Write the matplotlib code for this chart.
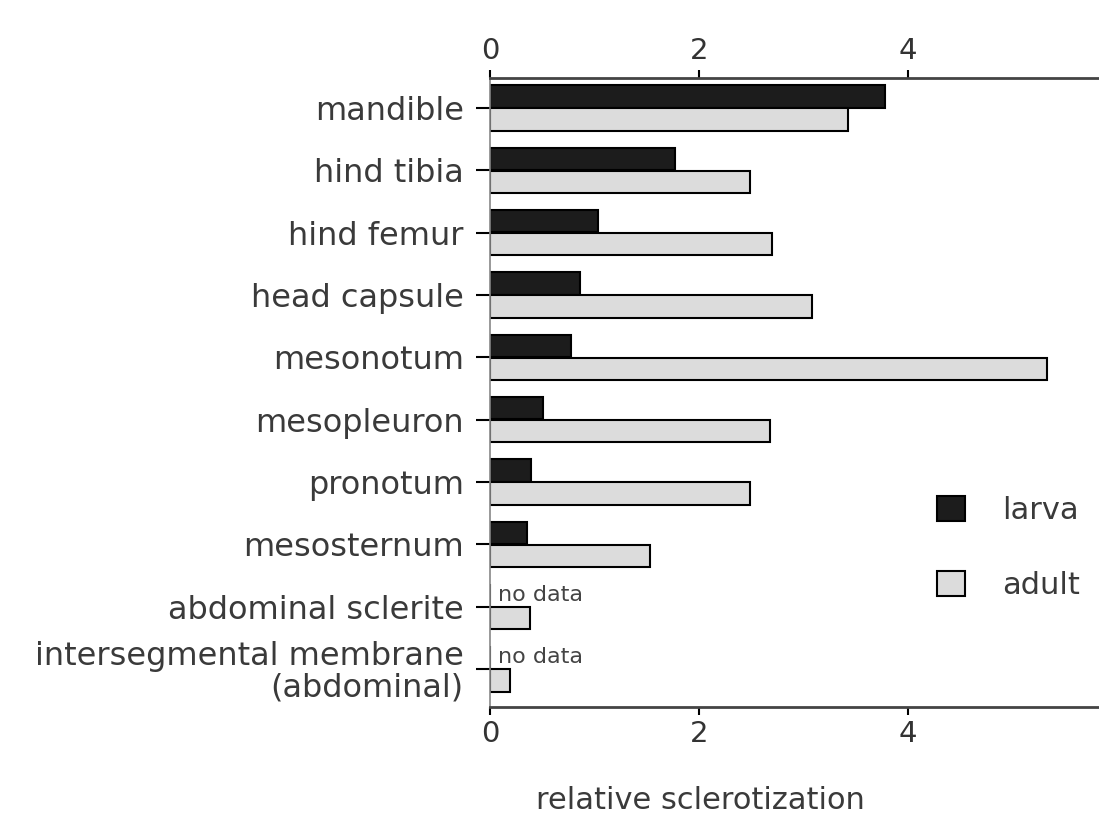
import numpy as np
import matplotlib.pyplot as plt
from matplotlib.patches import Patch

# Sclerotization values per body part (None = no data)
parts = ["mandible", "hind tibia", "hind femur", "head capsule", "mesonotum",
         "mesopleuron", "pronotum", "mesosternum", "abdominal sclerite",
         "intersegmental membrane\n(abdominal)"]
larva = [3.78, 1.77, 1.03, 0.86, 0.77, 0.51, 0.39, 0.35, None, None]
adult = [3.43, 2.49, 2.70, 3.08, 5.33, 2.68, 2.49, 1.53, 0.38, 0.19]
xticks = [0, 2, 4]

plt.rcParams['font.family'] = ['DejaVu Sans']
fig = plt.figure(figsize=(10.99, 8.24), dpi=100)
ax = fig.add_axes([0.4459, 0.1420, 0.5705, 0.7633])

y = np.arange(len(parts))
off = 0.185
h = 0.36
larva_vals = [v if v is not None else 0 for v in larva]
ax.barh(y - off, larva_vals, height=h, color="#1c1c1c", edgecolor="black", linewidth=1.5)
ax.barh(y + off, adult, height=h, color="#dcdcdc", edgecolor="black", linewidth=1.5)

for yi, v in zip(y, larva):
    if v is None:
        ax.text(0.08, yi - off, "no data", fontsize=16, color="#444444",
                va="center", ha="left")

ax.set_xlim(0, 6)
ax.set_ylim(9.61, -0.48)
ax.set_yticks(y)
ax.set_yticklabels(parts, fontsize=23, color="#3a3a3a", linespacing=1.0)
ax.set_xticks(xticks)
ax.set_xticklabels([str(t) for t in xticks], fontsize=21, color="#333333")
ax.tick_params(axis="x", top=True, labeltop=True, direction="out", length=6, width=1.5)
ax.tick_params(axis="y", direction="out", length=10, width=1.5, pad=9)

for s in ["top", "bottom"]:
    ax.spines[s].set_linewidth(2)
    ax.spines[s].set_color("#444444")
ax.spines["left"].set_linewidth(1.2)
ax.spines["left"].set_color("#888888")
ax.spines["right"].set_visible(False)

ax.set_xlabel("relative sclerotization", fontsize=22, color="#3a3a3a")
ax.xaxis.set_label_coords((700 - 490) / 627, -0.125)

handles = [Patch(facecolor="#1c1c1c", edgecolor="black", linewidth=1.5, label="larva"),
           Patch(facecolor="#dcdcdc", edgecolor="black", linewidth=1.5, label="adult")]
fig.legend(handles=handles, loc="center left", bbox_to_anchor=(0.828, 0.335),
           frameon=False, fontsize=22, handlelength=0.9, handleheight=0.9,
           labelspacing=1.5, handletextpad=1.2, labelcolor="#3a3a3a")

fig.savefig("out.png", dpi=100)
